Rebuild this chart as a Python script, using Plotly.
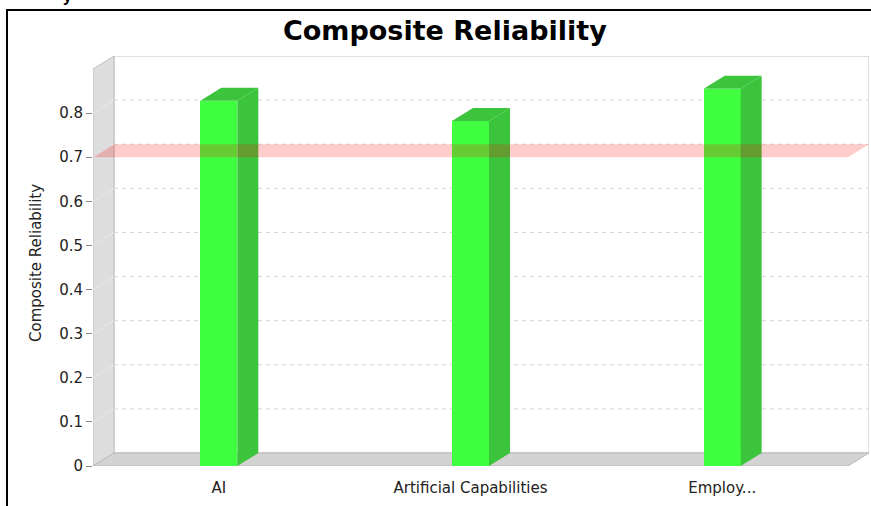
import plotly.graph_objects as go

# Composite reliability per construct
categories = ["AI", "Artificial Capabilities", "Employ..."]
reliability = [0.828, 0.782, 0.855]
threshold = 0.7
y_ticks = [0, 0.1, 0.2, 0.3, 0.4, 0.5, 0.6, 0.7, 0.8]

# 3D look: depth offsets (data units) and bar width
DX = 0.0834
DY = 0.0295
BAR_W = 0.147
X0, X1 = -0.5, len(categories) - 0.5
Y_TOP = 0.9

BAR_FRONT = "#40FF40"
BAR_SIDE = "#3DC43D"
WALL = "#DDDDDD"
FLOOR = "#D3D3D3"
EDGE = "#C0C0C0"

W, H = 871, 506
ML, MR, MT, MB = 93, 2, 56, 40
PW, PH = W - ML - MR, H - MT - MB


def px_x(p):
    return (p - ML) / PW


def px_y(p):
    return (H - MB - p) / PH


fig = go.Figure()
shapes = []

# back wall
shapes.append(dict(type="rect", xref="x", yref="y", layer="below",
                   x0=X0 + DX, x1=X1 + DX, y0=DY, y1=Y_TOP + DY,
                   fillcolor="white", line=dict(color=EDGE, width=1)))
# left wall
shapes.append(dict(type="path", xref="x", yref="y", layer="below",
                   path=f"M {X0},0 L {X0},{Y_TOP} L {X0+DX},{Y_TOP+DY} L {X0+DX},{DY} Z",
                   fillcolor=WALL, line=dict(color=EDGE, width=1)))
# floor
shapes.append(dict(type="path", xref="x", yref="y", layer="below",
                   path=f"M {X0},0 L {X1},0 L {X1+DX},{DY} L {X0+DX},{DY} Z",
                   fillcolor=FLOOR, line=dict(color="#B8B8B8", width=1)))

# gridlines on the back wall, with their slant across the left wall
for v in y_ticks[1:]:
    shapes.append(dict(type="line", xref="x", yref="y", layer="below",
                       x0=X0, y0=v, x1=X0 + DX, y1=v + DY,
                       line=dict(color="#E8E8E8", width=1)))
    shapes.append(dict(type="line", xref="x", yref="y", layer="below",
                       x0=X0 + DX, y0=v + DY, x1=X1 + DX, y1=v + DY,
                       line=dict(color="#D6D6D6", width=1, dash="4px,4px")))

# bar front faces
fig.add_trace(go.Bar(x=list(range(len(categories))), y=reliability, width=BAR_W,
                     marker=dict(color=BAR_FRONT, line=dict(width=0)),
                     hoverinfo="skip", showlegend=False))

# bar sides and tops
for i, v in enumerate(reliability):
    l, r = i - BAR_W / 2, i + BAR_W / 2
    fig.add_trace(go.Scatter(
        x=[r, r + DX, r + DX, r, r], y=[0, DY, v + DY, v, 0],
        mode="lines", fill="toself", fillcolor=BAR_SIDE,
        line=dict(width=0, color=BAR_SIDE), hoverinfo="skip", showlegend=False))
    fig.add_trace(go.Scatter(
        x=[l, l + DX, r + DX, r, l], y=[v, v + DY, v + DY, v, v],
        mode="lines", fill="toself", fillcolor=BAR_SIDE,
        line=dict(width=0, color=BAR_SIDE), hoverinfo="skip", showlegend=False))

# threshold plane at 0.7
fig.add_trace(go.Scatter(
    x=[X0, X1, X1 + DX, X0 + DX, X0],
    y=[threshold, threshold, threshold + DY, threshold + DY, threshold],
    mode="lines", fill="toself", fillcolor="rgba(255,0,0,0.2)",
    line=dict(width=0, color="rgba(0,0,0,0)"), hoverinfo="skip", showlegend=False))

# outer frame (left and top edges)
shapes.append(dict(type="path", xref="paper", yref="paper", layer="above",
                   path=f"M {px_x(7)},{px_y(H+2)} L {px_x(7)},{px_y(10)} L {px_x(W+2)},{px_y(10)}",
                   line=dict(color="black", width=2)))

annotations = [
    dict(text="<b>Composite Reliability</b>", xref="paper", yref="paper",
         x=px_x(444.5), y=px_y(31), xanchor="center", yanchor="middle", showarrow=False,
         font=dict(family="DejaVu Sans", size=27, color="black")),
    dict(text="Composite Reliability", xref="paper", yref="paper",
         x=px_x(36), y=px_y(263), xanchor="center", yanchor="middle", showarrow=False,
         textangle=-90, font=dict(family="DejaVu Sans", size=15, color="#222222")),
    dict(text="<b>y</b>", xref="paper", yref="paper",
         x=px_x(67), y=px_y(-4), xanchor="center", yanchor="middle", showarrow=False,
         font=dict(family="Liberation Sans", size=16, color="black")),
]

fig.update_layout(
    width=W, height=H, autosize=False,
    margin=dict(l=ML, r=MR, t=MT, b=MB, pad=0),
    paper_bgcolor="white", plot_bgcolor="rgba(0,0,0,0)",
    shapes=shapes, annotations=annotations,
    xaxis=dict(range=[X0, X1 + DX], tickvals=list(range(len(categories))),
               ticktext=categories, showgrid=False, zeroline=False, showline=False,
               ticks="", ticklabelstandoff=11,
               tickfont=dict(family="DejaVu Sans", size=15, color="#222222"),
               fixedrange=True),
    yaxis=dict(range=[0, Y_TOP + DY], tickvals=y_ticks,
               ticktext=[f"{t:g}" for t in y_ticks],
               showgrid=False, zeroline=False, showline=False,
               ticks="outside", ticklen=6, tickcolor="#888888",
               tickfont=dict(family="DejaVu Sans", size=15, color="#222222"),
               fixedrange=True),
    bargap=0,
)

fig.write_html("out.html")
